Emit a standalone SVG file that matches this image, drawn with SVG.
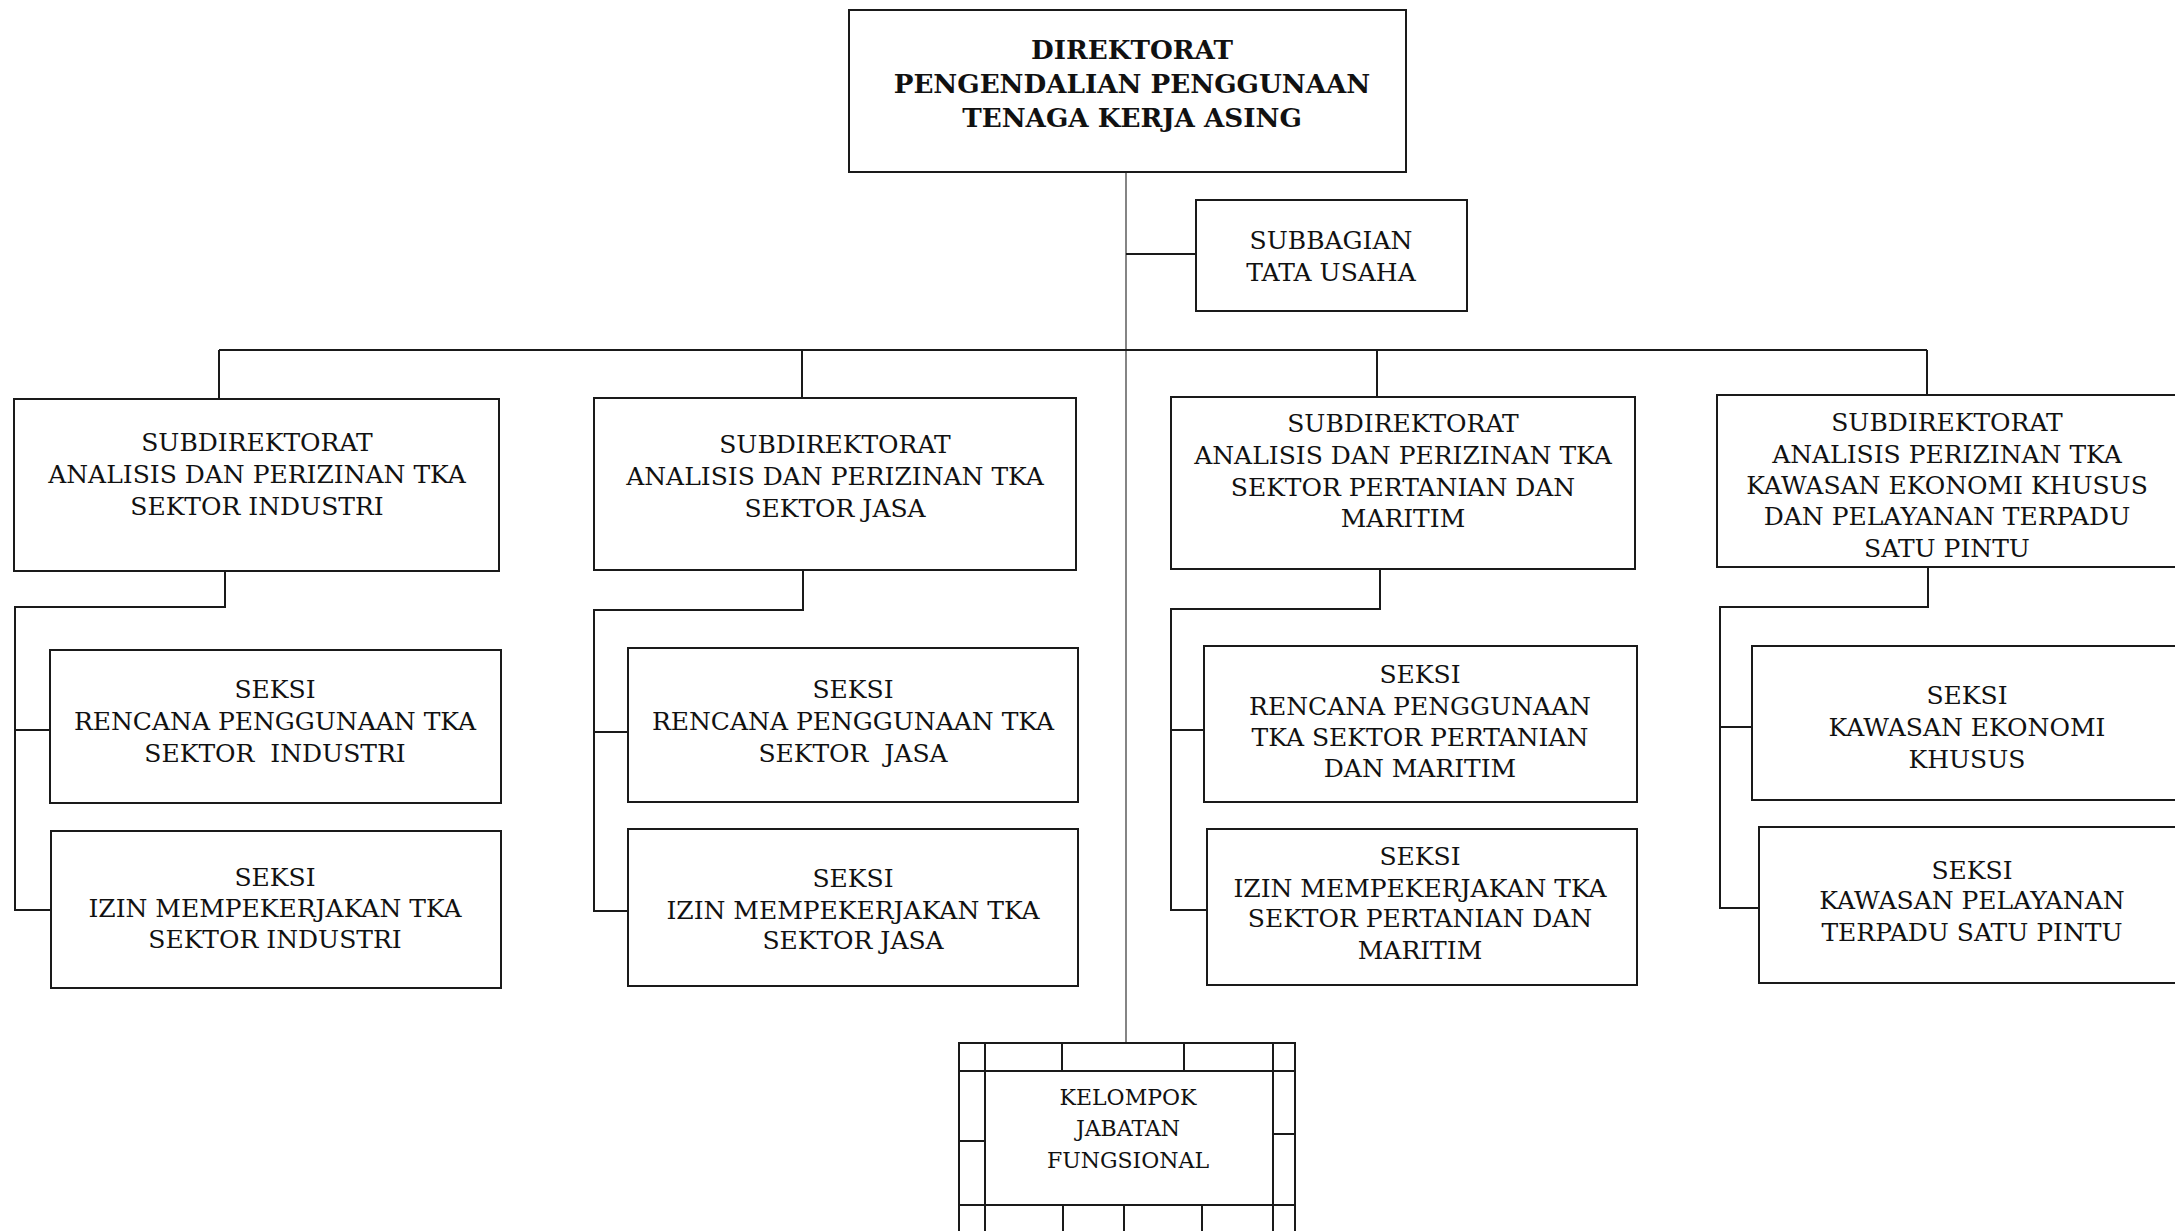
<svg xmlns="http://www.w3.org/2000/svg" width="2175" height="1231" viewBox="0 0 2175 1231">
  <style>
    .box { fill: #fff; stroke: #1a1a1a; stroke-width: 2; }
    .thin { fill: none; stroke: #1a1a1a; stroke-width: 2; }
    .link { fill: none; stroke: #1a1a1a; stroke-width: 2; }
    .trunk { fill: none; stroke: #666; stroke-width: 1.6; }
    .t { font-family: "DejaVu Serif", "Liberation Serif", serif; font-size: 25px; text-anchor: middle; fill: #111; white-space: pre; }
    .tb { font-family: "DejaVu Serif", "Liberation Serif", serif; font-size: 26.2px; font-weight: bold; text-anchor: middle; fill: #111; }
    .ts { font-family: "DejaVu Serif", "Liberation Serif", serif; font-size: 22px; text-anchor: middle; fill: #111; }
  </style>
  <rect width="2175" height="1231" fill="#fff"/>

  <!-- connectors -->
  <g id="connectors">
    <path class="trunk" d="M1126 172 V1043"/>
    <path class="link" d="M1126 254 H1196"/>
    <path class="link" d="M219 350 H1927 M219 350 V399 M802 350 V398 M1377 350 V397 M1927 350 V395"/>
    <!-- column 1 -->
    <path class="link" d="M225 571 V607 H15 V910 H51 M15 730 H50"/>
    <!-- column 2 -->
    <path class="link" d="M803 570 V610 H594 V911 H628 M594 732 H628"/>
    <!-- column 3 -->
    <path class="link" d="M1380 569 V609 H1171 V910 H1207 M1171 730 H1204"/>
    <!-- column 4 -->
    <path class="link" d="M1928 567 V607 H1720 V908 H1759 M1720 727 H1752"/>
  </g>

  <g id="direktorat">
    <rect class="box" x="849" y="10" width="557" height="162"/>
    <text class="tb"><tspan x="1132" y="59">DIREKTORAT</tspan><tspan x="1132" y="93">PENGENDALIAN PENGGUNAAN</tspan><tspan x="1132" y="127">TENAGA KERJA ASING</tspan></text>
  </g>

  <g id="subbagian-tu">
    <rect class="box" x="1196" y="200" width="271" height="111"/>
    <text class="t"><tspan x="1331" y="249">SUBBAGIAN</tspan><tspan x="1331" y="281">TATA USAHA</tspan></text>
  </g>

  <g id="subdit-industri">
    <rect class="box" x="14" y="399" width="485" height="172"/>
    <text class="t"><tspan x="257" y="451">SUBDIREKTORAT</tspan><tspan x="257" y="483">ANALISIS DAN PERIZINAN TKA</tspan><tspan x="257" y="515">SEKTOR INDUSTRI</tspan></text>
  </g>

  <g id="subdit-jasa">
    <rect class="box" x="594" y="398" width="482" height="172"/>
    <text class="t"><tspan x="835" y="453">SUBDIREKTORAT</tspan><tspan x="835" y="485">ANALISIS DAN PERIZINAN TKA</tspan><tspan x="835" y="517">SEKTOR JASA</tspan></text>
  </g>

  <g id="subdit-pertanian">
    <rect class="box" x="1171" y="397" width="464" height="172"/>
    <text class="t"><tspan x="1403" y="432">SUBDIREKTORAT</tspan><tspan x="1403" y="464">ANALISIS DAN PERIZINAN TKA</tspan><tspan x="1403" y="496">SEKTOR PERTANIAN DAN</tspan><tspan x="1403" y="527">MARITIM</tspan></text>
  </g>

  <g id="subdit-kek-ptsp">
    <rect class="box" x="1717" y="395" width="470" height="172"/>
    <text class="t"><tspan x="1947" y="431">SUBDIREKTORAT</tspan><tspan x="1947" y="463">ANALISIS PERIZINAN TKA</tspan><tspan x="1947" y="494">KAWASAN EKONOMI KHUSUS</tspan><tspan x="1947" y="525">DAN PELAYANAN TERPADU</tspan><tspan x="1947" y="557">SATU PINTU</tspan></text>
  </g>

  <g id="seksi-rencana-industri">
    <rect class="box" x="50" y="650" width="451" height="153"/>
    <text class="t"><tspan x="275" y="698">SEKSI</tspan><tspan x="275" y="730">RENCANA PENGGUNAAN TKA</tspan><tspan x="275" y="762">SEKTOR  INDUSTRI</tspan></text>
  </g>

  <g id="seksi-izin-industri">
    <rect class="box" x="51" y="831" width="450" height="157"/>
    <text class="t"><tspan x="275" y="886">SEKSI</tspan><tspan x="275" y="917">IZIN MEMPEKERJAKAN TKA</tspan><tspan x="275" y="948">SEKTOR INDUSTRI</tspan></text>
  </g>

  <g id="seksi-rencana-jasa">
    <rect class="box" x="628" y="648" width="450" height="154"/>
    <text class="t"><tspan x="853" y="698">SEKSI</tspan><tspan x="853" y="730">RENCANA PENGGUNAAN TKA</tspan><tspan x="853" y="762">SEKTOR  JASA</tspan></text>
  </g>

  <g id="seksi-izin-jasa">
    <rect class="box" x="628" y="829" width="450" height="157"/>
    <text class="t"><tspan x="853" y="887">SEKSI</tspan><tspan x="853" y="919">IZIN MEMPEKERJAKAN TKA</tspan><tspan x="853" y="949">SEKTOR JASA</tspan></text>
  </g>

  <g id="seksi-rencana-pertanian">
    <rect class="box" x="1204" y="646" width="433" height="156"/>
    <text class="t"><tspan x="1420" y="683">SEKSI</tspan><tspan x="1420" y="715">RENCANA PENGGUNAAN</tspan><tspan x="1420" y="746">TKA SEKTOR PERTANIAN</tspan><tspan x="1420" y="777">DAN MARITIM</tspan></text>
  </g>

  <g id="seksi-izin-pertanian">
    <rect class="box" x="1207" y="829" width="430" height="156"/>
    <text class="t"><tspan x="1420" y="865">SEKSI</tspan><tspan x="1420" y="897">IZIN MEMPEKERJAKAN TKA</tspan><tspan x="1420" y="927">SEKTOR PERTANIAN DAN</tspan><tspan x="1420" y="959">MARITIM</tspan></text>
  </g>

  <g id="seksi-kek">
    <rect class="box" x="1752" y="646" width="440" height="154"/>
    <text class="t"><tspan x="1967" y="704">SEKSI</tspan><tspan x="1967" y="736">KAWASAN EKONOMI</tspan><tspan x="1967" y="768">KHUSUS</tspan></text>
  </g>

  <g id="seksi-ptsp">
    <rect class="box" x="1759" y="827" width="433" height="156"/>
    <text class="t"><tspan x="1972" y="879">SEKSI</tspan><tspan x="1972" y="909">KAWASAN PELAYANAN</tspan><tspan x="1972" y="941">TERPADU SATU PINTU</tspan></text>
  </g>

  <g id="kelompok-jf">
    <rect class="box" x="959" y="1043" width="336" height="200"/>
    <path class="thin" d="M985 1043 V1240 M1273 1043 V1240 M959 1071 H1295 M959 1205 H1295 M1062 1043 V1071 M1184 1043 V1071 M1063 1205 V1240 M1124 1205 V1240 M1202 1205 V1240 M959 1141 H985 M1273 1134 H1295"/>
    <text class="ts"><tspan x="1128" y="1105">KELOMPOK</tspan><tspan x="1128" y="1136">JABATAN</tspan><tspan x="1128" y="1168">FUNGSIONAL</tspan></text>
  </g>
</svg>
